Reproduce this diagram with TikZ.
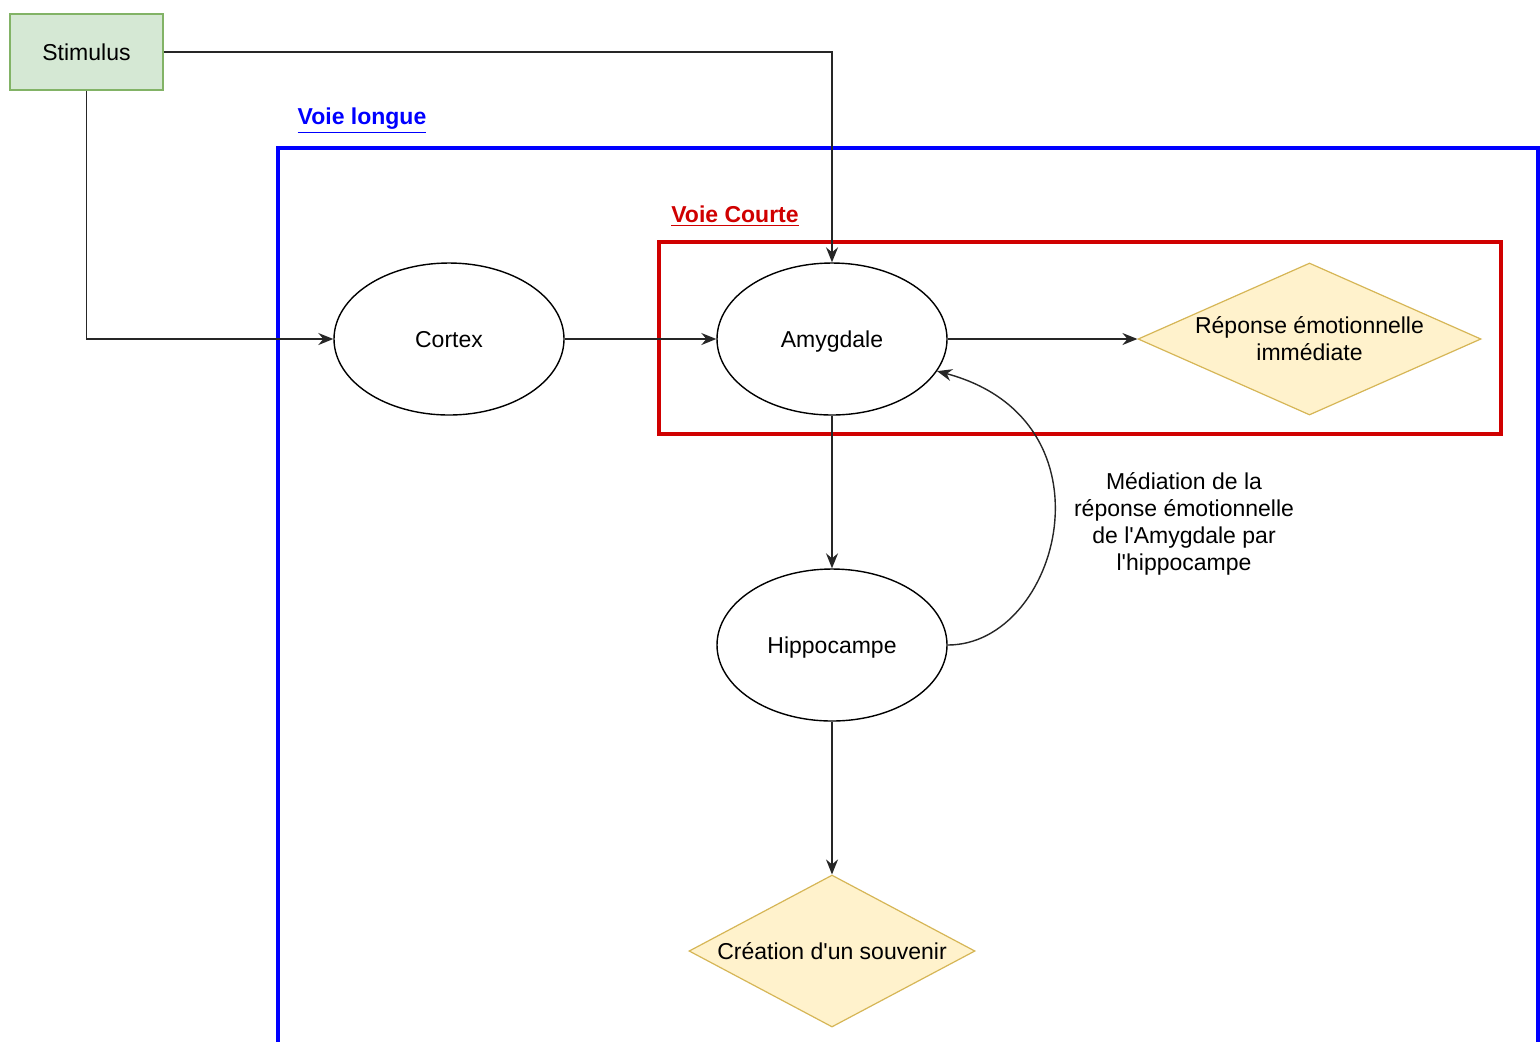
\documentclass[tikz,border=0pt]{standalone}
\usepackage{fontspec}
\setmainfont{Liberation Sans}[Ligatures=TeXOff]
\usetikzlibrary{shapes.geometric,arrows.meta}
\definecolor{stimfill}{HTML}{D5E8D4}
\definecolor{stimline}{HTML}{82B366}
\definecolor{diafill}{HTML}{FFF2CC}
\definecolor{dialine}{HTML}{D6B656}
\definecolor{longblue}{HTML}{0000FF}
\definecolor{courtred}{HTML}{D00000}
\tikzset{
  stimbox/.style={draw=stimline, fill=stimfill, line width=0.6pt, minimum width=76.5pt, minimum height=38pt, inner sep=0pt, text height=8.5pt, text depth=0.5pt},
  ell/.style={draw=black, ellipse, line width=0.7pt, minimum width=115pt, minimum height=76pt, inner sep=0pt, text height=8.5pt, text depth=0.5pt},
  dia/.style={draw=dialine, fill=diafill, diamond, line width=0.6pt, minimum height=76pt, inner sep=0pt, align=center},
  conn/.style={draw=black!85, line width=0.7pt, -{Stealth[length=7.5pt,width=6pt,inset=2.5pt]}},
  grouplabel/.style={font=\fontsize{11.5}{13.5}\selectfont\bfseries, inner sep=0pt},
}
\begin{document}
\begin{tikzpicture}[x=0.5pt,y=-0.5pt, font=\fontsize{11.5}{13.5}\selectfont]
\clip (0,0) rectangle (1540,1041);
\fill[white] (0,0) rectangle (1540,1041);
% group frames
\draw[longblue, line width=2pt] (278,148) rectangle (1538,1100);
\draw[courtred, line width=2pt] (659,242) rectangle (1501,434);
\node[grouplabel, text=longblue] (vl) at (362,121) {\underline{Voie longue}};
\node[grouplabel, text=courtred] (vc) at (735,216) {\underline{Voie Courte}};
% nodes
\node[stimbox] (stim) at (86.5,52) {Stimulus};
\node[ell] (cor) at (449,339) {Cortex};
\node[ell] (amy) at (832,339) {Amygdale};
\node[ell] (hip) at (832,645) {Hippocampe};
\node[dia, minimum width=171.5pt, aspect=2.257] (rep) at (1309.5,339) {Réponse émotionnelle\\immédiate};
\node[dia, minimum width=143pt, aspect=1.88] (cre) at (832,951) {Création d'un souvenir};
\node[align=center, inner sep=0pt] (med) at (1184,524) {Médiation de la\\réponse émotionnelle\\de l'Amygdale par\\l'hippocampe};
% connectors
\draw[conn] (stim.east) -| (amy.north);
\draw[conn] (stim.south) |- (cor.west);
\draw[conn] (cor.east) -- (amy.west);
\draw[conn] (amy.east) -- (rep.west);
\draw[conn] (amy.south) -- (hip.north);
\draw[conn] (hip.south) -- (cre.north);
\draw[conn] (hip.east) .. controls (1060,645) and (1120,420) .. (amy.-17);
\end{tikzpicture}
\end{document}
